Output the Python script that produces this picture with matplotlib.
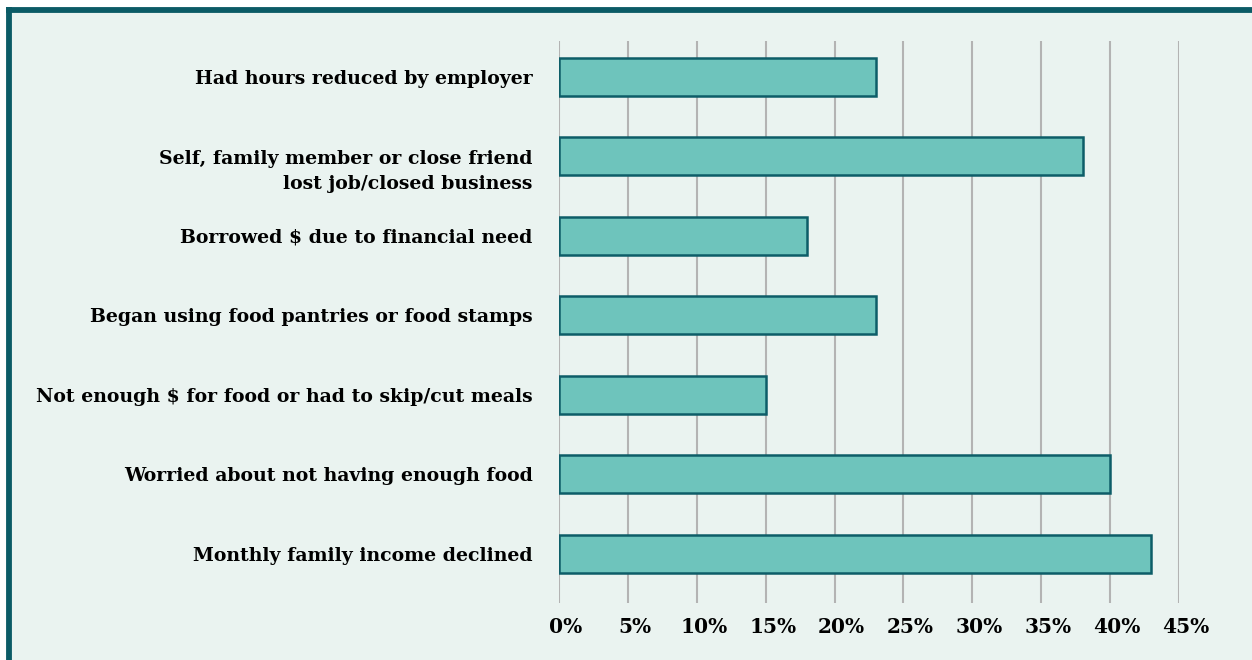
import matplotlib
matplotlib.use("Agg")
import matplotlib.pyplot as plt
from matplotlib.patches import Rectangle
from matplotlib.lines import Line2D
from matplotlib.transforms import ScaledTranslation

categories = [
    "Had hours reduced by employer",
    "Self, family member or close friend\nlost job/closed business",
    "Borrowed $ due to financial need",
    "Began using food pantries or food stamps",
    "Not enough $ for food or had to skip/cut meals",
    "Worried about not having enough food",
    "Monthly family income declined",
]
values = [23, 38, 18, 23, 15, 40, 43]
ticks = [0, 5, 10, 15, 20, 25, 30, 35, 40, 45]
tick_labels = [f"{t}%" for t in ticks]

W, H = 1252, 660
bg = "#eaf3f0"
border = "#0b5b66"
bar_fill = "#6ec4bc"
bar_edge = "#0d5d68"

fig = plt.figure(figsize=(W / 100, H / 100), dpi=100)
fig.patch.set_facecolor("white")

# panel background with the thick top/left rule
fig.patches.append(Rectangle((6 / W, 0), 1, 1 - 7 / H, transform=fig.transFigure,
                             facecolor=bg, edgecolor="none", zorder=-3))
fig.lines.append(Line2D([6 / W, 1], [1 - 9.5 / H, 1 - 9.5 / H], transform=fig.transFigure,
                        color=border, lw=4.2, solid_capstyle="butt", zorder=-2))
fig.lines.append(Line2D([8.5 / W, 8.5 / W], [0, 1 - 7 / H], transform=fig.transFigure,
                        color=border, lw=4.2, solid_capstyle="butt", zorder=-2))

ax = fig.add_axes([559 / W, 1 - 603 / H, 620 / W, 562 / H])
ax.set_facecolor("none")

y = list(range(len(categories)))
ax.barh(y, values, height=0.48, color=bar_fill, edgecolor=bar_edge, linewidth=1.8, zorder=3)

ax.set_xlim(0, 45)
ax.set_ylim(len(categories) - 1 + 0.62, -0.45)
ax.set_xticks(ticks)
ax.set_xticklabels(tick_labels, fontfamily="DejaVu Serif", fontweight="bold", fontsize=14.5)
ax.set_yticks(y)
ax.set_yticklabels(categories, fontfamily="DejaVu Serif", fontweight="bold",
                   fontsize=13.6, linespacing=1.5)
ax.tick_params(axis="both", length=0)
ax.tick_params(axis="x", pad=10)
ax.tick_params(axis="y", pad=19)
for lab in ax.get_xticklabels():
    lab.set_transform(lab.get_transform() + ScaledTranslation(7 / 100, 0, fig.dpi_scale_trans))
# the two-line label hangs down from its bar rather than centring on it
two_line = ax.get_yticklabels()[1]
two_line.set_transform(two_line.get_transform() + ScaledTranslation(0, -10 / 100, fig.dpi_scale_trans))

ax.grid(axis="x", color="#b3b3b3", linewidth=1.5, zorder=0)
ax.set_axisbelow(True)
for s in ax.spines.values():
    s.set_visible(False)

fig.savefig("out.png", dpi=100, facecolor=fig.get_facecolor())
